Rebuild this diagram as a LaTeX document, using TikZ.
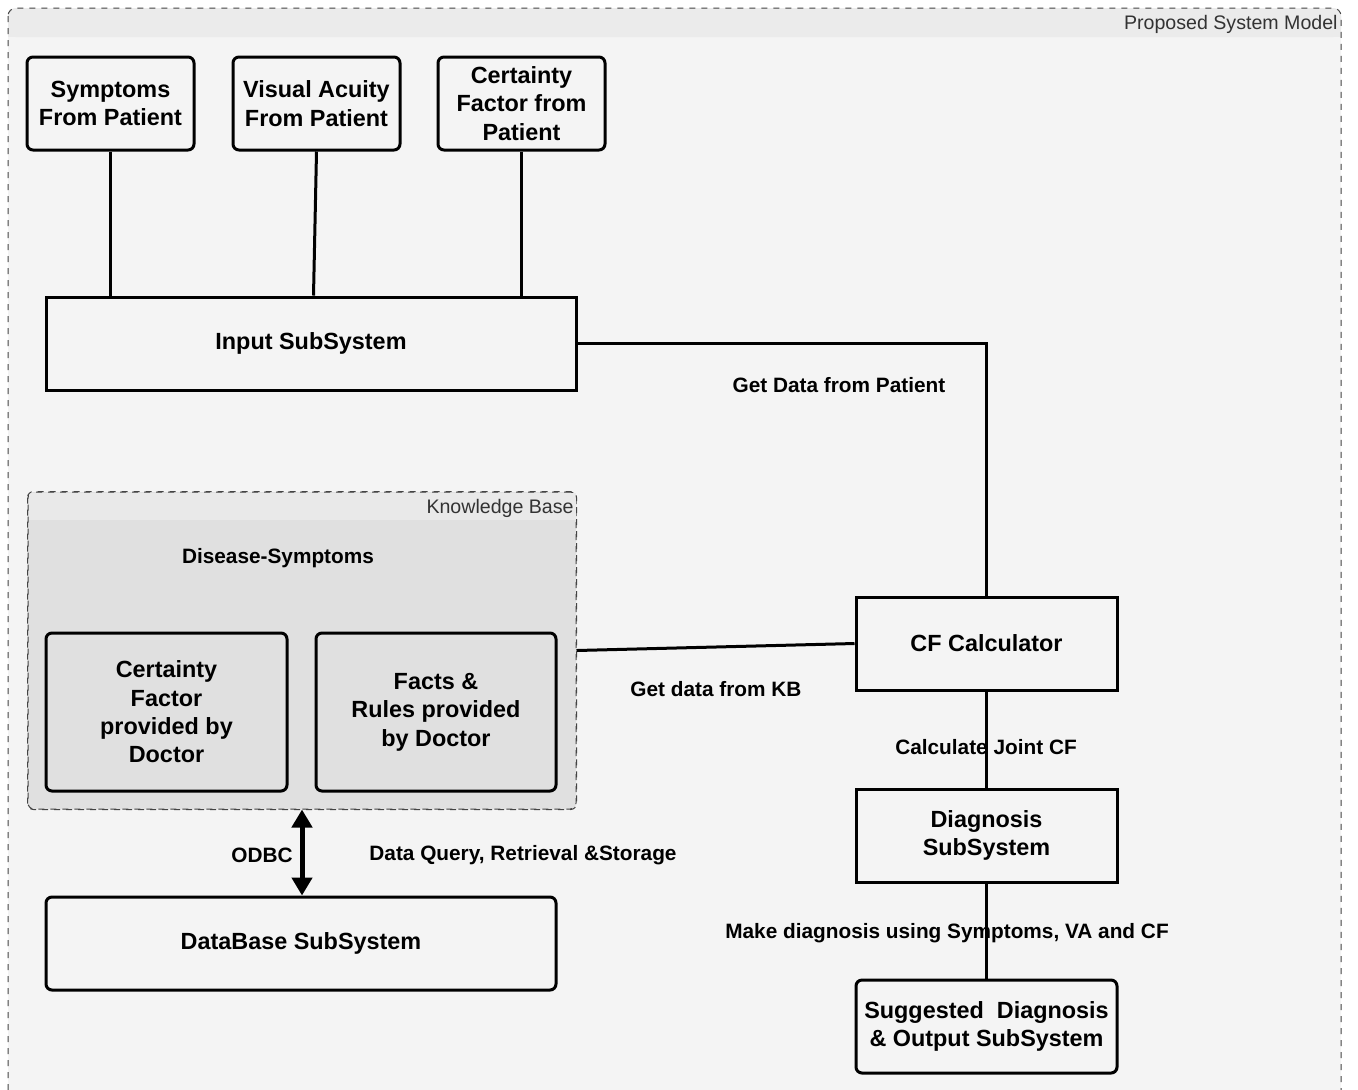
\documentclass[tikz,border=0pt]{standalone}
\usepackage{fontspec}
\setmainfont{Liberation Sans}
\usetikzlibrary{arrows.meta}
\definecolor{pagebg}{HTML}{F4F4F4}
\definecolor{headbg}{HTML}{EBEBEB}
\definecolor{kbbg}{HTML}{E0E0E0}
\definecolor{kbhead}{HTML}{E9E9E9}
\definecolor{framecol}{HTML}{444444}
\tikzset{
  box/.style={draw=black, line width=1.5pt, fill=pagebg, inner sep=0pt,
    align=center, font=\bfseries\fontsize{11.7}{14.2}\selectfont,
    minimum height=46.5pt},
  rbox/.style={box, rounded corners=3pt},
  kbbox/.style={rbox, fill=kbbg},
  wire/.style={line width=1.5pt, draw=black},
  lbl/.style={font=\bfseries\fontsize{10.4}{12}\selectfont, inner sep=0pt},
  grouplbl/.style={font=\fontsize{9.8}{11}\selectfont, text=black!80, inner sep=0pt, anchor=east},
}
\begin{document}
\begin{tikzpicture}[x=0.5pt, y=-0.5pt]
\useasboundingbox (0,0) rectangle (1358,1089);
\clip (0,0) rectangle (1358,1089);
\fill[white] (0,0) rectangle (1358,1089);

% outer system frame
\fill[pagebg, rounded corners=4pt] (8,8) rectangle (1341,1110);
\fill[headbg, rounded corners=4pt] (8,8) rectangle (1341,37);
\fill[headbg] (8,25) rectangle (1341,37);
\draw[framecol, dashed, line width=0.5pt, rounded corners=4pt] (8,8) rectangle (1341,1110);
\node[grouplbl] (systitle) at (1338,24) {Proposed System Model};

% patient inputs
\node[rbox, minimum width=83.5pt] (sym) at (110.5,103.5) {Symptoms\\From Patient};
\node[rbox, minimum width=83.5pt] (va) at (316.5,103.5) {Visual Acuity\\From Patient};
\node[rbox, minimum width=83.5pt] (cfp) at (521.5,103.5) {Certainty\\Factor from\\Patient};
\node[box, minimum width=265pt] (inp) at (311,343.5) {Input SubSystem};

% knowledge base group
\node[draw=framecol, dashed, line width=0.5pt, fill=kbbg, rounded corners=3pt,
      minimum width=274pt, minimum height=158.5pt, inner sep=0pt] (kb) at (302,650.5) {};
\fill[kbhead] (28.5,492.5) rectangle (575.5,520);
\draw[framecol, dashed, line width=0.5pt, rounded corners=3pt] (kb.north west) rectangle (kb.south east);
\node[grouplbl] (kbtitle) at (574,508) {Knowledge Base};
\node[lbl] (ds) at (278,558) {Disease-Symptoms};
\node[kbbox, minimum width=120.5pt, minimum height=79pt] (cfd) at (166.5,712) {Certainty\\Factor\\provided by\\Doctor};
\node[kbbox, minimum width=120pt, minimum height=79pt] (fr) at (436,712) {Facts \&\\Rules provided\\by Doctor};

% processing chain
\node[box, minimum width=130.5pt] (cfc) at (986.5,643.5) {CF Calculator};
\node[box, minimum width=130.5pt] (diag) at (986.5,835.5) {Diagnosis\\SubSystem};
\node[rbox, minimum width=130.5pt] (out) at (986.5,1026.5) {Suggested\ \ Diagnosis\\\& Output SubSystem};
\node[rbox, minimum width=255pt] (db) at (301,943.5) {DataBase SubSystem};

% connectors
\draw[wire] (sym.south) -- (sym.south |- inp.north);
\draw[wire] (va.south) -- ([xshift=-1.5pt]va.south |- inp.north);
\draw[wire] (cfp.south) -- (cfp.south |- inp.north);
\draw[wire] (inp.east) -- (cfc.north |- inp.east) -- (cfc.north);
\draw[wire] (kb.east) -- (cfc.west);
\draw[wire] (cfc.south) -- (diag.north);
\draw[wire] (diag.south) -- (out.north);
\draw[line width=2.5pt, {Triangle[width=10pt,length=9pt]}-{Triangle[width=10pt,length=9pt]}]
  (kb.south) -- (kb.south |- db.north);

% connector labels
\node[lbl] (l1) at (839,385) {Get Data from Patient};
\node[lbl] (l2) at (716,689) {Get data from KB};
\node[lbl] (l3) at (986,747) {Calculate Joint CF};
\node[lbl] (l4) at (947,933) {Make diagnosis using Symptoms, VA and CF};
\node[lbl] (l5) at (262,855) {ODBC};
\node[lbl] (l6) at (523,855) {Data Query, Retrieval \&Storage};
\end{tikzpicture}
\end{document}
